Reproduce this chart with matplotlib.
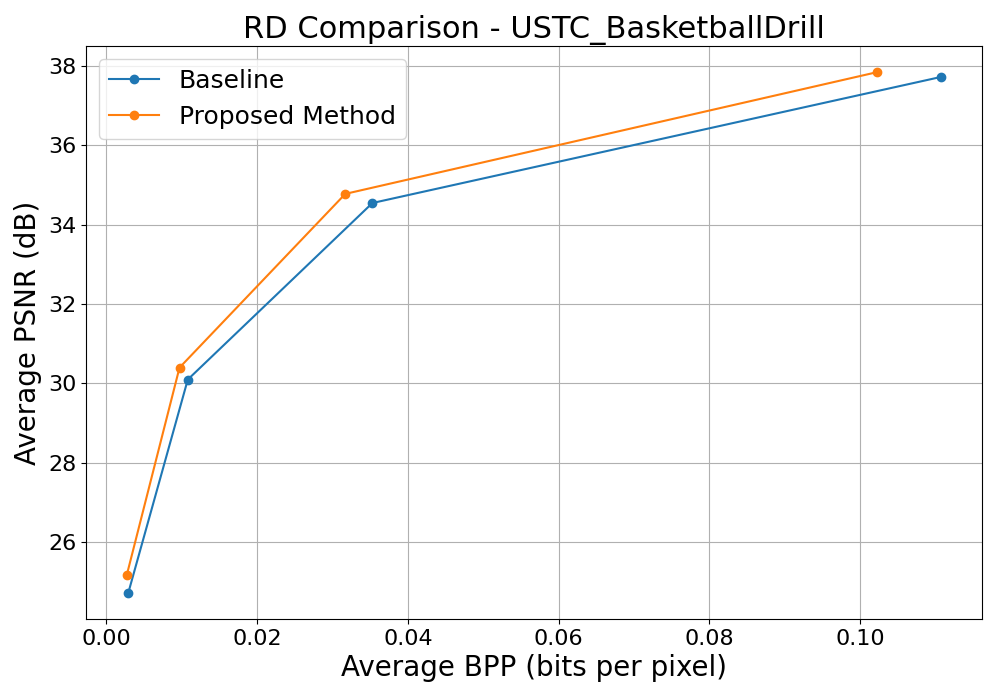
import matplotlib

matplotlib.use("Agg")
import matplotlib.pyplot as plt

# RD points
baseline_bpp = [0.0029, 0.0108, 0.0353, 0.1108]
baseline_psnr = [24.72, 30.10, 34.55, 37.73]

proposed_bpp = [0.0027, 0.0097, 0.0317, 0.1023]
proposed_psnr = [25.17, 30.40, 34.78, 37.85]

fig, ax = plt.subplots(figsize=(9.97, 6.98), dpi=100)
ax.plot(baseline_bpp, baseline_psnr, marker="o", label="Baseline")
ax.plot(proposed_bpp, proposed_psnr, marker="o", label="Proposed Method")

ax.set_title("RD Comparison - USTC_BasketballDrill", fontsize=22)
ax.set_xlabel("Average BPP (bits per pixel)", fontsize=20)
ax.set_ylabel("Average PSNR (dB)", fontsize=20)
ax.tick_params(labelsize=16)
ax.grid(True)
ax.legend(fontsize=18)

fig.subplots_adjust(left=0.0863, right=0.985, bottom=0.1132, top=0.934)
fig.savefig("out.png", dpi=100)
